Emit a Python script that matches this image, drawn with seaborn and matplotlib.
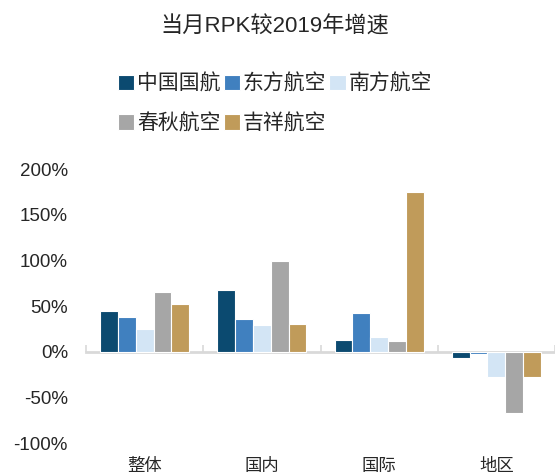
import matplotlib
matplotlib.use("Agg")
import matplotlib.pyplot as plt
import seaborn as sns
import pandas as pd
import numpy as np
from matplotlib.ticker import FuncFormatter, FixedLocator

categories = ["整体", "国内", "国际", "地区"]
airlines = ["中国国航", "东方航空", "南方航空", "春秋航空", "吉祥航空"]
v_guohang = [45, 68, 13, -7]
v_dongfang = [38, 36, 43, -2]
v_nanfang = [25, 30, 16, -27]
v_chunqiu = [66, 100, 12, -67]
v_jixiang = [52, 31, 175, -27]
colors = ["#0b4a70", "#4080bf", "#d3e5f5", "#a6a6a6", "#c09b5a"]
yticks = [-100, -50, 0, 50, 100, 150, 200]
title = "当月RPK较2019年增速"

series = [v_guohang, v_dongfang, v_nanfang, v_chunqiu, v_jixiang]
rows = []
for a, vals in zip(airlines, series):
    for c, v in zip(categories, vals):
        rows.append({"cat": c, "airline": a, "value": v})
df = pd.DataFrame(rows)

sns.set_style("white")
fam = ["Liberation Sans", "Noto Sans CJK SC"]
plt.rcParams["font.family"] = fam

fig = plt.figure(figsize=(5.55, 4.75), dpi=100)
ax = fig.add_axes([86 / 555, 1 - 443.5 / 475, 1 - 86 / 555, (443.5 - 169) / 475])

sns.barplot(data=df, x="cat", y="value", hue="airline", order=categories,
            hue_order=airlines, palette=colors, width=0.76, saturation=1,
            edgecolor="white", linewidth=0.8, ax=ax, legend=True)

ax.set_xlim(-0.5, 3.5)
ax.set_ylim(-100, 200)
ax.yaxis.set_major_locator(FixedLocator(yticks))
ax.yaxis.set_major_formatter(FuncFormatter(lambda v, p: f"{int(v)}%"))
ax.tick_params(axis="y", length=0, labelsize=13.5, pad=13)
ax.tick_params(axis="x", length=0, labelsize=12.5, pad=10)
for lab in ax.get_xticklabels():
    lab.set_family(["Noto Sans CJK SC"])
ax.set_xlabel("")
ax.set_ylabel("")
for s in ax.spines.values():
    s.set_visible(False)

# zero axis line with boundary ticks
zero_frac = (0 - (-100)) / 300
sec = ax.secondary_xaxis(zero_frac)
sec.set_xticks([-0.5, 0.5, 1.5, 2.5, 3.5])
sec.set_xticklabels([])
sec.tick_params(axis="x", direction="in", length=5, width=1.2, color="#d9d9d9")
sec.spines["bottom"].set_color("#d9d9d9")
sec.spines["bottom"].set_linewidth(2)
for k in ["top", "left", "right"]:
    if k in sec.spines:
        sec.spines[k].set_visible(False)

handles, labels = ax.get_legend_handles_labels()
ax.get_legend().remove()
order = [0, 3, 1, 4, 2]
fig.legend([handles[i] for i in order], [labels[i] for i in order],
           loc="upper left", bbox_to_anchor=(99 / 555, 1 - 54 / 475),
           ncol=3, frameon=False, prop={"family": ["Noto Sans CJK SC"], "size": 15},
           handlelength=0.8, handleheight=0.8, handletextpad=0.12,
           columnspacing=0.15, labelspacing=0.85)

fig.text(0.495, 1 - 27 / 475, title, ha="center", va="center", fontsize=16,
         family=fam)

fig.savefig("out.png", dpi=100)
